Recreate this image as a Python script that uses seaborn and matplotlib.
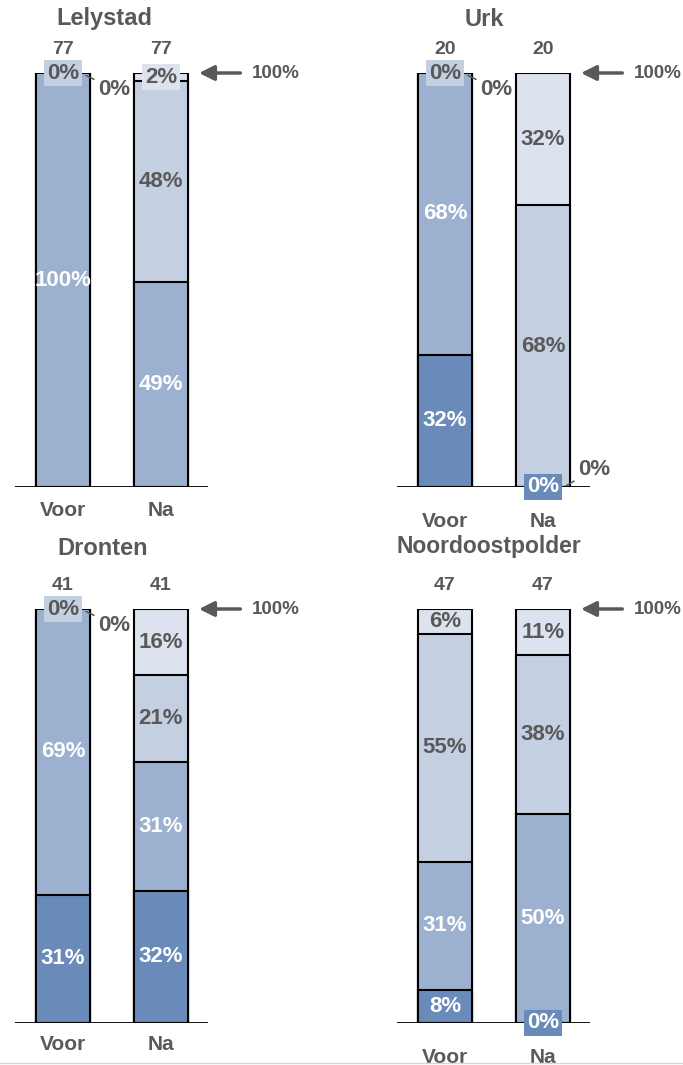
import numpy as np
import pandas as pd
import matplotlib.pyplot as plt
import seaborn as sns

sns.set_style('white')
plt.rcParams['font.family'] = ['Liberation Sans', 'DejaVu Sans']
plt.rcParams['font.weight'] = 'bold'

regions = ['Lelystad', 'Urk', 'Dronten', 'Noordoostpolder']
periods = ['Voor', 'Na']
counts_voor = [77, 20, 41, 47]
counts_na = [77, 20, 41, 47]

# percentages per segment, bottom (donker) to top (lichtst); nan = not present
voor_donker = [np.nan, 32, 31, 8]
voor_midden = [100, 68, 69, 31]
voor_licht = [0, 0, 0, 55]
voor_lichtst = [0, 0, 0, 6]
na_donker = [np.nan, 0, 32, 0]
na_midden = [49, 0, 31, 50]
na_licht = [48, 68, 21, 38]
na_lichtst = [2, 32, 16, 11]

seg_colors = ['#6a8bb9', '#9cb0cf', '#c4cfe2', '#dde3ee']
grey = '#595959'
seg_text = ['white', 'white', grey, grey]

rows = []
for i, reg in enumerate(regions):
    for per, vals in [('Voor', [voor_donker, voor_midden, voor_licht, voor_lichtst]),
                      ('Na', [na_donker, na_midden, na_licht, na_lichtst])]:
        for k, v in enumerate(vals):
            rows.append({'regio': reg, 'periode': per, 'segment': k, 'waarde': v[i]})
df = pd.DataFrame(rows)

W, H = 683, 1065
fig = plt.figure(figsize=(W / 100, H / 100), dpi=100)


def rect(left, top, width, height):
    return [left / W, 1 - (top + height) / H, width / W, height / H]


panels = [rect(15, 73, 193, 414), rect(397, 73, 193, 414),
          rect(15, 609, 193, 414), rect(397, 609, 193, 414)]
title_pos = [(104, 19), (484, 19), (103, 548), (489, 546)]
tick_pad = [10, 18, 9, 18]
bar_w = 0.55
lab_fs = 16

for i, reg in enumerate(regions):
    ax = fig.add_axes(panels[i])
    sub = df[df.regio == reg]
    vals = np.array([[sub[(sub.periode == p) & (sub.segment == k)].waarde.iloc[0]
                      for k in range(4)] for p in periods], dtype=float)
    filled = np.nan_to_num(vals)
    cum = np.cumsum(filled, axis=1) / filled.sum(axis=1, keepdims=True) * 100
    prev = np.hstack([np.zeros((2, 1)), cum[:, :-1]])

    for k in reversed(range(4)):
        layer = pd.DataFrame({'periode': periods, 'cum': cum[:, k]})
        sns.barplot(data=layer, x='periode', y='cum', order=periods, color=seg_colors[k],
                    width=bar_w, edgecolor='black', linewidth=1.5, saturation=1, ax=ax)

    for j in range(2):
        used = set()
        for k in range(4):
            v = vals[j, k]
            if np.isnan(v):
                continue
            if v > 0:
                box = None
                if v < 4:
                    box = dict(boxstyle='square,pad=0.12', fc=seg_colors[k], ec='none')
                ax.text(j, (prev[j, k] + cum[j, k]) / 2, f'{v:.0f}%', ha='center', va='center',
                        color=seg_text[k], fontsize=lab_fs, fontweight='bold', zorder=5, bbox=box)
                continue
            pos = round(cum[j, k])
            if pos not in used:
                used.add(pos)
                ax.text(j, pos, '0%', ha='center', va='center', color=seg_text[k],
                        fontsize=lab_fs, fontweight='bold', zorder=5,
                        bbox=dict(boxstyle='square,pad=0.12', fc=seg_colors[k], ec='none'))
            else:
                top = pos > 50
                ax.annotate('0%', xy=(j + bar_w / 2 - 0.04, pos - 0.6 if top else pos + 0.3),
                            xytext=(9, -10 if top else 12),
                            textcoords='offset points', ha='left', va='center', color=grey,
                            fontsize=lab_fs, fontweight='bold', annotation_clip=False, zorder=6,
                            arrowprops=dict(arrowstyle='-', color=grey, lw=1.1, shrinkA=1, shrinkB=0))
        n = [counts_voor, counts_na][j][i]
        ax.text(j, 105.6, str(n), ha='center', va='center', color=grey, fontsize=14, fontweight='bold')

    ax.annotate('', xy=(1.388, 100), xytext=(1.81, 100), annotation_clip=False,
                arrowprops=dict(arrowstyle='-|>,head_length=0.9,head_width=0.45', color=grey, lw=2.5,
                                shrinkA=0, shrinkB=0))
    ax.text(1.93, 100, '100%', ha='left', va='center', color=grey, fontsize=13.5, fontweight='bold')

    ax.set_xlim(-0.49, 1.48)
    ax.set_ylim(0, 100)
    ax.axhline(0, color='black', lw=1.3, zorder=4)
    for s in ax.spines.values():
        s.set_visible(False)
    ax.set_yticks([])
    ax.set_xlabel('')
    ax.set_ylabel('')
    ax.tick_params(axis='x', length=0, pad=tick_pad[i], labelsize=15, labelcolor=grey)
    for lab in ax.get_xticklabels():
        lab.set_fontweight('bold')
    ax.patch.set_alpha(0)

    tx, ty = title_pos[i]
    fig.text(tx / W, 1 - ty / H, reg, ha='center', va='center', color=grey,
             fontsize=16.5 if len(reg) > 10 else 17, fontweight='bold')

fig.add_artist(plt.Line2D([0, 1], [1 - 1063 / H] * 2, color='#d9d9d9', lw=1))

plt.savefig('out.png', dpi=100)
plt.close()
